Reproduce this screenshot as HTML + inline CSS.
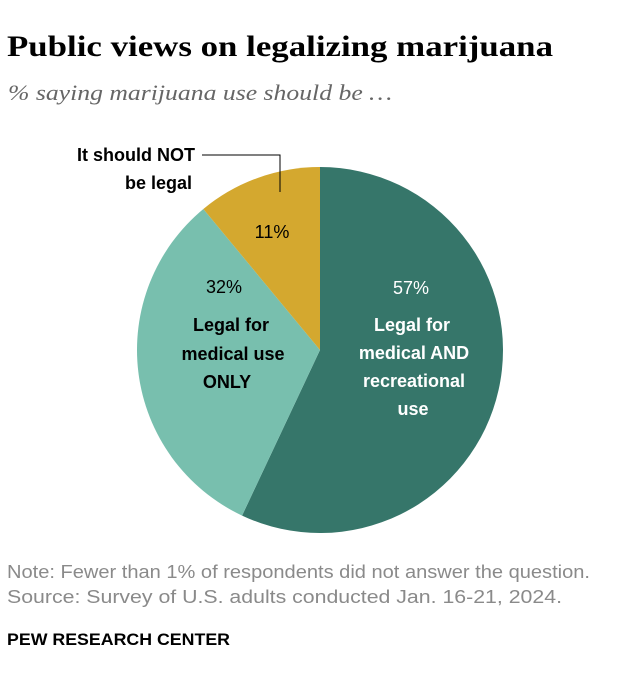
<!DOCTYPE html>
<html><head><meta charset="utf-8"><style>
body{margin:0;background:#fff;width:620px;height:684px;overflow:hidden;font-family:"Liberation Sans",sans-serif}
svg{display:block}
</style></head><body>
<svg width="620" height="684">
<text x="7" y="56" font-family="Liberation Serif" font-weight="bold" font-size="30" fill="#000" textLength="546" lengthAdjust="spacingAndGlyphs">Public views on legalizing marijuana</text>
<text x="8" y="100" font-family="Liberation Serif" font-style="italic" font-size="22" fill="#666" textLength="384" lengthAdjust="spacingAndGlyphs">% saying marijuana use should be …</text>
<g id="pie"></g>
<g font-weight="bold" font-size="18" text-anchor="end">
<text x="195" y="161">It should NOT</text><text x="192" y="189">be legal</text></g>
<polyline points="202,155 280,155 280,192" fill="none" stroke="#000" stroke-width="1"/>
<text x="272" y="238" font-size="18" text-anchor="middle">11%</text>
<text x="224" y="293" font-size="18" text-anchor="middle">32%</text>
<g font-weight="bold" font-size="18" text-anchor="middle">
<text x="231" y="331">Legal for</text><text x="233" y="360">medical use</text><text x="227" y="388">ONLY</text></g>
<text x="411" y="294" font-size="18" fill="#fff" text-anchor="middle">57%</text>
<g font-weight="bold" font-size="18" fill="#fff" text-anchor="middle">
<text x="412" y="331">Legal for</text><text x="414" y="359">medical AND</text><text x="414" y="387">recreational</text><text x="413" y="415">use</text></g>
<text x="7" y="578" font-size="18" fill="#8a8a8a" textLength="583" lengthAdjust="spacingAndGlyphs">Note: Fewer than 1% of respondents did not answer the question.</text>
<text x="7" y="603" font-size="18" fill="#8a8a8a" textLength="555" lengthAdjust="spacingAndGlyphs">Source: Survey of U.S. adults conducted Jan. 16-21, 2024.</text>
<text x="7" y="645" font-size="17" font-weight="bold" fill="#000" textLength="223" lengthAdjust="spacingAndGlyphs">PEW RESEARCH CENTER</text>
</svg>
<script>
const categories=["Legal for medical AND recreational use","Legal for medical use ONLY","It should NOT be legal"];
const values=[57,32,11];
const colors=["#36766a","#78bfae","#d4a82f"];
const cx=320,cy=350,r=183;
const g=document.getElementById('pie');
const total=values.reduce((a,b)=>a+b,0);
let a0=0;
function pt(a){return [cx+r*Math.sin(a),cy-r*Math.cos(a)];}
values.forEach((v,i)=>{
 const a1=a0+v/total*2*Math.PI;
 const p0=pt(a0),p1=pt(a1);
 const large=(a1-a0)>Math.PI?1:0;
 const path=document.createElementNS('http://www.w3.org/2000/svg','path');
 path.setAttribute('d',`M${cx},${cy}L${p0[0]},${p0[1]}A${r},${r} 0 ${large} 1 ${p1[0]},${p1[1]}Z`);
 path.setAttribute('fill',colors[i]);
 
 
 g.appendChild(path);
 a0=a1;
});
</script>
</body></html>
